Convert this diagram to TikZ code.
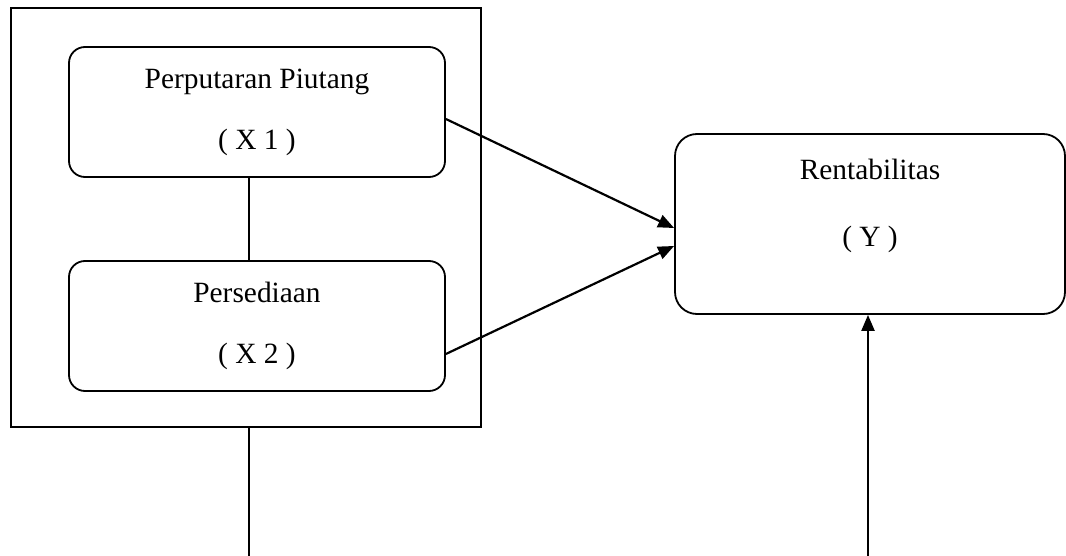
\documentclass[tikz,border=0pt]{standalone}
\usepackage{fontspec}
\setmainfont{Liberation Serif}
\usetikzlibrary{arrows.meta}

\begin{document}
\begin{tikzpicture}[x=0.5pt,y=-0.5pt,
    var/.style={draw, line width=0.9pt, rounded corners=8pt, align=center,
      minimum width=188pt, minimum height=65pt, font=\fontsize{14.7}{17}\selectfont},
    edge/.style={line width=1.1pt, -{Triangle[length=8pt,width=6.5pt]}}]
	  \useasboundingbox (0,0) rectangle (1066,556);

	  \node[draw, line width=0.9pt, minimum width=235pt, minimum height=209.5pt] (grp) at (246,217.5) {}; %
	  \node[var] (x1) at (257,112) {Perputaran Piutang\\[13.5pt]( X 1 )};
	  \node[var] (x2) at (257,326) {Persediaan\\[13.5pt]( X 2 )};

	  \node[var, rounded corners=11pt, minimum width=195pt, minimum height=90pt] (y) at (870,224) {};
	  \node[align=center, font=\fontsize{14.7}{17}\selectfont] (ytxt) at (870,206) {Rentabilitas\\[16.5pt]( Y )};

	  \draw[line width=0.9pt] ([xshift=-4pt]x1.south) -- ([xshift=-4pt]x2.north); %
	  \draw[edge] ([yshift=-3.5pt]x1.east) -- ([yshift=-2pt]y.west);
	  \draw[edge] ([yshift=-14pt]x2.east) -- ([yshift=-11pt]y.west);
	  \draw[edge] ([xshift=1.5pt]grp.south) -- ++(0,175) -| ([xshift=-1pt]y.south);

	\end{tikzpicture}
\end{document}
